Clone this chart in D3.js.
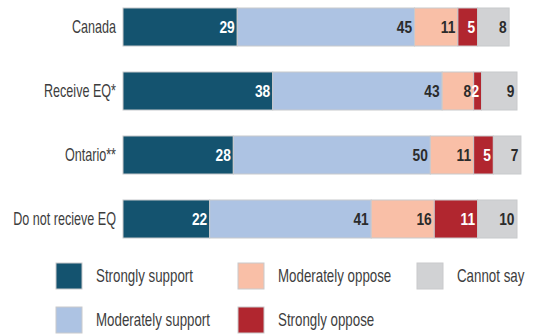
<!DOCTYPE html>
<html>
<head>
<meta charset="utf-8">
<script src="https://cdn.jsdelivr.net/npm/d3@7/dist/d3.min.js"></script>
<style>
  html, body { margin: 0; padding: 0; background: #fff; }
  svg text { font-family: "Liberation Sans", Arial, sans-serif; }
</style>
</head>
<body>
<svg id="chart" width="539" height="334"></svg>
<script>
// Support for equalization, by group (%)
const groups = ["Canada", "Receive EQ*", "Ontario**", "Do not recieve EQ"];
const responses = ["Strongly support", "Moderately support", "Moderately oppose", "Strongly oppose", "Cannot say"];
const stronglySupport   = [29, 38, 28, 22];
const moderatelySupport = [45, 43, 50, 41];
const moderatelyOppose  = [11, 8, 11, 16];
const stronglyOppose    = [5, 2, 5, 11];
const cannotSay         = [8, 9, 7, 10];
const colors = ["#14536f", "#adc3e3", "#f9bfa7", "#b1262f", "#d1d2d4"];
const labelColors = ["#ffffff", "#2b2b2b", "#2b2b2b", "#ffffff", "#2b2b2b"];

// narrow the type horizontally for a condensed look
const NARROW_AXIS = 0.70;
const NARROW_LEGEND = 0.74;
const NARROW_BOLD = 0.86;

const seriesValues = [stronglySupport, moderatelySupport, moderatelyOppose, stronglyOppose, cannotSay];
const table = groups.map((g, i) => {
  const row = { group: g };
  responses.forEach((r, j) => { row[r] = seriesValues[j][i]; });
  return row;
});
const stacked = d3.stack().keys(responses)(table);

const svg = d3.select("#chart");
const x = d3.scaleLinear().domain([0, 100]).range([123, 517]);
const y = d3.scaleBand().domain(groups).range([-5, 251]).paddingInner(0.406).paddingOuter(0.203);

const layers = svg.append("g").selectAll("g")
  .data(stacked)
  .join("g")
  .attr("fill", (d, i) => colors[i]);

layers.selectAll("rect")
  .data(d => d)
  .join("rect")
  .attr("x", d => x(d[0]))
  .attr("y", d => y(d.data.group))
  .attr("width", d => x(d[1]) - x(d[0]))
  .attr("height", y.bandwidth())
  .attr("stroke", "#c9cacc")
  .attr("stroke-width", 1);

layers.selectAll("text")
  .data((d, i) => d.map(p => ({ p, key: d.key, idx: i })))
  .join("text")
  .attr("transform", d => `translate(${x(d.p[1]) - 2.5},${y(d.p.data.group) + y.bandwidth() / 2}) scale(${NARROW_BOLD},1)`)
  .attr("dy", "0.36em")
  .attr("text-anchor", "end")
  .attr("font-size", 16)
  .attr("font-weight", "bold")
  .attr("fill", d => labelColors[d.idx])
  .text(d => d.p.data[d.key]);

// category axis
const yAxis = svg.append("g")
  .attr("transform", `translate(${x(0) - 7},0)`)
  .call(d3.axisLeft(y).tickSize(0).tickPadding(0));
yAxis.select(".domain").remove();
yAxis.selectAll("text")
  .attr("x", 0)
  .attr("transform", `scale(${NARROW_AXIS},1)`)
  .attr("font-size", 18)
  .attr("fill", "#3d3d3d")
  .style("font-family", '"Liberation Sans", Arial, sans-serif');

// legend
const legendPos = [
  { sx: 56, sy: 263 }, { sx: 56, sy: 307 },
  { sx: 238, sy: 263 }, { sx: 238, sy: 307 },
  { sx: 417, sy: 263 }
];
const legend = svg.append("g").selectAll("g")
  .data(responses)
  .join("g")
  .attr("transform", (d, i) => `translate(${legendPos[i].sx},${legendPos[i].sy})`);
legend.append("rect")
  .attr("width", 26).attr("height", 26)
  .attr("fill", (d, i) => colors[i])
  .attr("stroke", "#c9cacc");
legend.append("text")
  .attr("transform", `translate(40,13) scale(${NARROW_LEGEND},1)`)
  .attr("dy", "0.36em")
  .attr("font-size", 18)
  .attr("fill", "#3d3d3d")
  .text(d => d);
</script>
</body>
</html>
